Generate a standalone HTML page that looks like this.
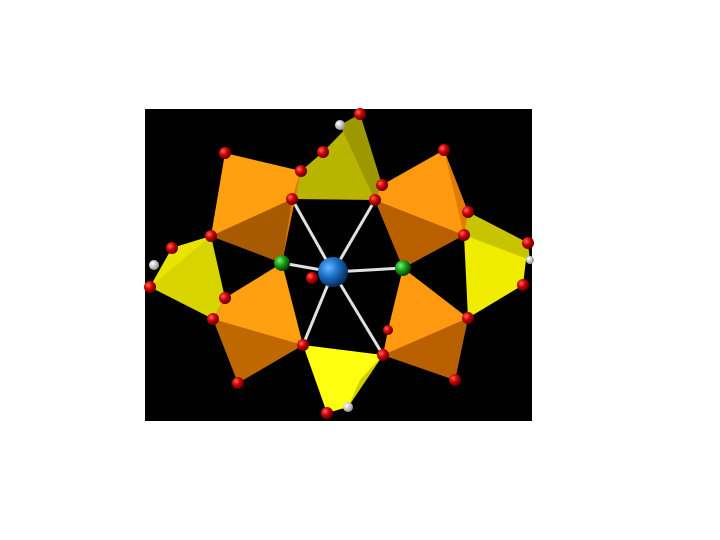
<!DOCTYPE html>
<html><head><meta charset="utf-8"><style>
html,body{margin:0;padding:0;background:#fff;width:720px;height:540px;overflow:hidden}
svg{display:block}
</style></head><body>
<svg width="720" height="540" viewBox="0 0 720 540">
<defs>
<radialGradient id="gr" cx="35%" cy="35%" r="65%"><stop offset="0" stop-color="#ff6a5a"/><stop offset="0.5" stop-color="#d00000"/><stop offset="1" stop-color="#600000"/></radialGradient>
<radialGradient id="gb" cx="35%" cy="35%" r="65%"><stop offset="0" stop-color="#6ab8ff"/><stop offset="0.5" stop-color="#1a70c8"/><stop offset="1" stop-color="#0a3060"/></radialGradient>
<radialGradient id="gg" cx="35%" cy="35%" r="65%"><stop offset="0" stop-color="#7cf07c"/><stop offset="0.5" stop-color="#14a014"/><stop offset="1" stop-color="#044004"/></radialGradient>
<radialGradient id="gw" cx="35%" cy="35%" r="65%"><stop offset="0" stop-color="#fff"/><stop offset="1" stop-color="#999"/></radialGradient>
</defs>
<rect x="145" y="109" width="387" height="312" fill="#000"/>
<g>
<polygon points="360,114 323,152 301,171 292,199 375,200 382,185" fill="#b8b400"/>
<polygon points="360,114 382,185 375,200 340,125" fill="#9c9800"/>
<polygon points="172,248 211,236 225,298 213,319 150,287" fill="#d8d400"/>
<polygon points="172,248 211,236 150,287" fill="#e8e400"/>
<polygon points="468,212 528,243 523,285 468,318 464,235" fill="#f0ec00"/>
<polygon points="468,212 528,243 530,260 464,235" fill="#c8c400"/>
<polygon points="303,345 383,355 348,407 327,413" fill="#ffff10"/>
<polygon points="383,355 348,407 360,380" fill="#d0cc00"/>
</g>
<g>
<polygon points="225,153 301,171 292,199 282,263 211,236" fill="#ffa010"/>
<polygon points="301,171 292,199 282,263" fill="#e07800"/>
<polygon points="211,236 292,199 282,263" fill="#a85a00"/>
<polygon points="444,150 468,212 464,235 403,268 375,200 382,185" fill="#ff9a10"/>
<polygon points="444,150 468,212 464,235" fill="#e07c00"/>
<polygon points="375,200 464,235 403,268" fill="#b86000"/>
<polygon points="225,298 282,263 303,345 238,383 213,319" fill="#ffa010"/>
<polygon points="213,319 303,345 238,383" fill="#c06800"/>
<polygon points="403,268 468,318 455,380 383,355 388,330" fill="#ff9a10"/>
<polygon points="383,355 468,318 455,380" fill="#b86000"/>
</g>
<g stroke="#e0e0e0" stroke-width="3">
<line x1="333" y1="272" x2="292" y2="199"/><line x1="333" y1="272" x2="375" y2="200"/>
<line x1="333" y1="272" x2="282" y2="263"/><line x1="333" y1="272" x2="403" y2="268"/>
<line x1="333" y1="272" x2="303" y2="345"/><line x1="333" y1="272" x2="383" y2="355"/>
</g>
<g fill="url(#gr)">
<circle cx="360" cy="114" r="6"/><circle cx="225" cy="153" r="6"/><circle cx="323" cy="152" r="6"/>
<circle cx="301" cy="171" r="6"/><circle cx="444" cy="150" r="6"/><circle cx="292" cy="199" r="6"/>
<circle cx="375" cy="200" r="6"/><circle cx="382" cy="185" r="6"/><circle cx="468" cy="212" r="6"/>
<circle cx="464" cy="235" r="6"/><circle cx="211" cy="236" r="6"/><circle cx="172" cy="248" r="6"/>
<circle cx="150" cy="287" r="6"/><circle cx="528" cy="243" r="6"/><circle cx="523" cy="285" r="6"/>
<circle cx="225" cy="298" r="6"/><circle cx="213" cy="319" r="6"/><circle cx="312" cy="278" r="6"/>
<circle cx="468" cy="318" r="6"/><circle cx="303" cy="345" r="6"/><circle cx="383" cy="355" r="6"/>
<circle cx="238" cy="383" r="6"/><circle cx="455" cy="380" r="6"/><circle cx="327" cy="413" r="6"/>
<circle cx="388" cy="330" r="5"/>
</g>
<g fill="url(#gw)">
<circle cx="340" cy="125" r="5"/><circle cx="154" cy="265" r="5"/><circle cx="348" cy="407" r="5"/><circle cx="530" cy="260" r="4"/>
</g>
<circle cx="282" cy="263" r="8" fill="url(#gg)"/>
<circle cx="403" cy="268" r="8" fill="url(#gg)"/>
<circle cx="333" cy="272" r="15" fill="url(#gb)"/>
</svg>
</body></html>
